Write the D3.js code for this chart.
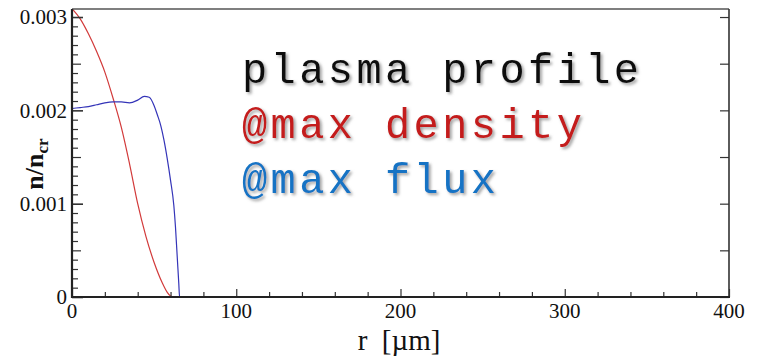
<!DOCTYPE html>
<html>
<head>
<meta charset="utf-8">
<script src="https://cdn.jsdelivr.net/npm/d3@7"></script>
<style>
  body { margin: 0; background: #fff; }
  svg { display: block; }
</style>
</head>
<body>
<svg id="chart" width="763" height="361"></svg>
<script>
// radius in micrometres
const rDensity = [0, 5, 10, 15, 20, 25, 30, 35, 40, 45, 50, 55, 58, 60, 62, 100, 200, 300, 400];
// n/n_cr profile at max density (red)
const nDensity = [0.00309, 0.00298, 0.00282, 0.00263, 0.00241, 0.00213, 0.00182, 0.00143, 0.00100, 0.00065, 0.00037, 0.00015, 0.00005, 0.00001, 0, 0, 0, 0, 0];

const rFlux = [0, 5, 10, 15, 20, 25, 30, 35, 40, 44, 47, 50, 52, 54, 56, 58, 60, 62, 63, 64, 65, 65.5, 100, 200, 300, 400];
// n/n_cr profile at max flux (blue)
const nFlux = [0.00202, 0.00203, 0.00204, 0.00206, 0.00208, 0.00209, 0.00209, 0.00208, 0.00211, 0.00215, 0.00214, 0.00205, 0.00195, 0.00184, 0.00168, 0.00148, 0.00125, 0.00098, 0.00075, 0.00045, 0.00015, 0, 0, 0, 0, 0];

const xTicks = [0, 100, 200, 300, 400];
const yTicks = [0, 0.001, 0.002, 0.003];
const legendLines = ["plasma profile", "@max density", "@max flux"];

const svg = d3.select("#chart");
const margin = {left: 72, right: 34, top: 9, bottom: 64};
const W = 763, H = 361;

const x = d3.scaleLinear().domain([0, 400]).range([margin.left, W - margin.right]);
const y = d3.scaleLinear().domain([0, 0.003086]).range([H - margin.bottom, margin.top]);

const serif = "'Liberation Serif', 'Times New Roman', serif";
const axisColor = "#333";

// drop shadow for the legend text
const defs = svg.append("defs");
const f = defs.append("filter").attr("id", "shadow")
    .attr("x", "-10%").attr("y", "-30%").attr("width", "130%").attr("height", "160%");
f.append("feDropShadow").attr("dx", 2).attr("dy", 2).attr("stdDeviation", 1.6)
    .attr("flood-color", "#777").attr("flood-opacity", 0.7);

defs.append("clipPath").attr("id", "plotclip")
    .append("rect")
    .attr("x", x(0)).attr("y", y.range()[1])
    .attr("width", x(400) - x(0)).attr("height", y.range()[0] - y.range()[1]);

// lines
const line = d3.line().curve(d3.curveMonotoneX);
const g = svg.append("g").attr("clip-path", "url(#plotclip)");
g.append("path")
    .attr("d", line(rDensity.map((r, i) => [x(r), y(nDensity[i])])))
    .attr("fill", "none").attr("stroke", "#d23a3a").attr("stroke-width", 1.2);
g.append("path")
    .attr("d", line(rFlux.map((r, i) => [x(r), y(nFlux[i])])))
    .attr("fill", "none").attr("stroke", "#3434b8").attr("stroke-width", 1.2);

// bottom axis: major ticks every 100, minor every 20, pointing inward
const xb = svg.append("g").attr("transform", `translate(0,${y(0)})`);
xb.call(d3.axisTop(x).tickValues(d3.range(0, 401, 20)).tickSize(5).tickFormat(""));
xb.call(g2 => g2.selectAll(".tick line").attr("stroke", axisColor).attr("stroke-width", 1.2));
xb.select(".domain").remove();
xb.selectAll(".tick").filter(d => d % 100 === 0).select("line").attr("y2", -8);

svg.append("g").selectAll("text").data(xTicks).join("text")
    .attr("x", d => x(d)).attr("y", 318)
    .attr("text-anchor", "middle")
    .attr("font-family", serif).attr("font-size", 21)
    .attr("fill", "#111")
    .text(d => d);

// left axis: minor every 0.0001, medium 0.0005, major 0.001
const yl = svg.append("g").attr("transform", `translate(${x(0)},0)`);
yl.call(d3.axisRight(y).tickValues(d3.range(0, 31).map(i => i * 0.0001)).tickSize(6).tickFormat(""));
yl.select(".domain").remove();
yl.selectAll(".tick line").attr("stroke", axisColor).attr("stroke-width", 1.2);
yl.selectAll(".tick").filter((d, i) => i % 5 === 0).select("line").attr("x2", 9);
yl.selectAll(".tick").filter((d, i) => i % 10 === 0).select("line").attr("x2", 11).attr("stroke-width", 1.6);

svg.append("g").selectAll("text").data(yTicks).join("text")
    .attr("x", 67).attr("y", d => y(d)).attr("dy", "0.35em")
    .attr("text-anchor", "end")
    .attr("font-family", serif).attr("font-size", 21)
    .attr("fill", "#111")
    .text(d => d === 0 ? "0" : d3.format(".3f")(d));

// right axis: ticks every 0.0005, pointing inward
const yr = svg.append("g").attr("transform", `translate(${x(400)},0)`);
yr.call(d3.axisLeft(y).tickValues(d3.range(0, 7).map(i => i * 0.0005)).tickSize(9).tickFormat(""));
yr.select(".domain").remove();
yr.selectAll(".tick line").attr("stroke", axisColor).attr("stroke-width", 1.2);

// frame
const x0 = x(0), x1 = x(400), y0 = y(0), y1 = y.range()[1];
svg.append("line").attr("x1", x0).attr("x2", x1).attr("y1", y1).attr("y2", y1)
    .attr("stroke", "#555").attr("stroke-width", 1.4);
svg.append("line").attr("x1", x1).attr("x2", x1).attr("y1", y1).attr("y2", y0)
    .attr("stroke", axisColor).attr("stroke-width", 1.6);
svg.append("line").attr("x1", x0 - 1).attr("x2", x1 + 1).attr("y1", y0).attr("y2", y0)
    .attr("stroke", "#222").attr("stroke-width", 2.2);
svg.append("line").attr("x1", x0).attr("x2", x0).attr("y1", y1).attr("y2", y0 + 1)
    .attr("stroke", "#222").attr("stroke-width", 2.2);

// axis titles
const yt = svg.append("text")
    .attr("transform", "translate(43,164) rotate(-90)")
    .attr("text-anchor", "middle")
    .attr("font-family", serif).attr("font-size", 26).attr("font-weight", "bold")
    .attr("fill", "#111");
yt.append("tspan").text("n/n");
yt.append("tspan").attr("font-size", 17).attr("dy", 5).text("cr");

svg.append("text")
    .attr("x", 399).attr("y", 350)
    .attr("text-anchor", "middle")
    .attr("font-family", serif).attr("font-size", 29)
    .attr("fill", "#111")
    .text("r\u00a0\u00a0[\u00b5m]");

// legend text
const legendColors = ["#111111", "#c41a1a", "#1273c4"];
svg.append("g").selectAll("text").data(legendLines).join("text")
    .attr("x", 242)
    .attr("y", (d, i) => 83 + i * 55)
    .attr("font-family", "'Courier New', 'Liberation Mono', monospace")
    .attr("font-size", 42)
    .attr("letter-spacing", 3.4)
    .attr("fill", (d, i) => legendColors[i])
    .attr("filter", "url(#shadow)")
    .style("white-space", "pre")
    .text(d => d);
</script>
</body>
</html>
